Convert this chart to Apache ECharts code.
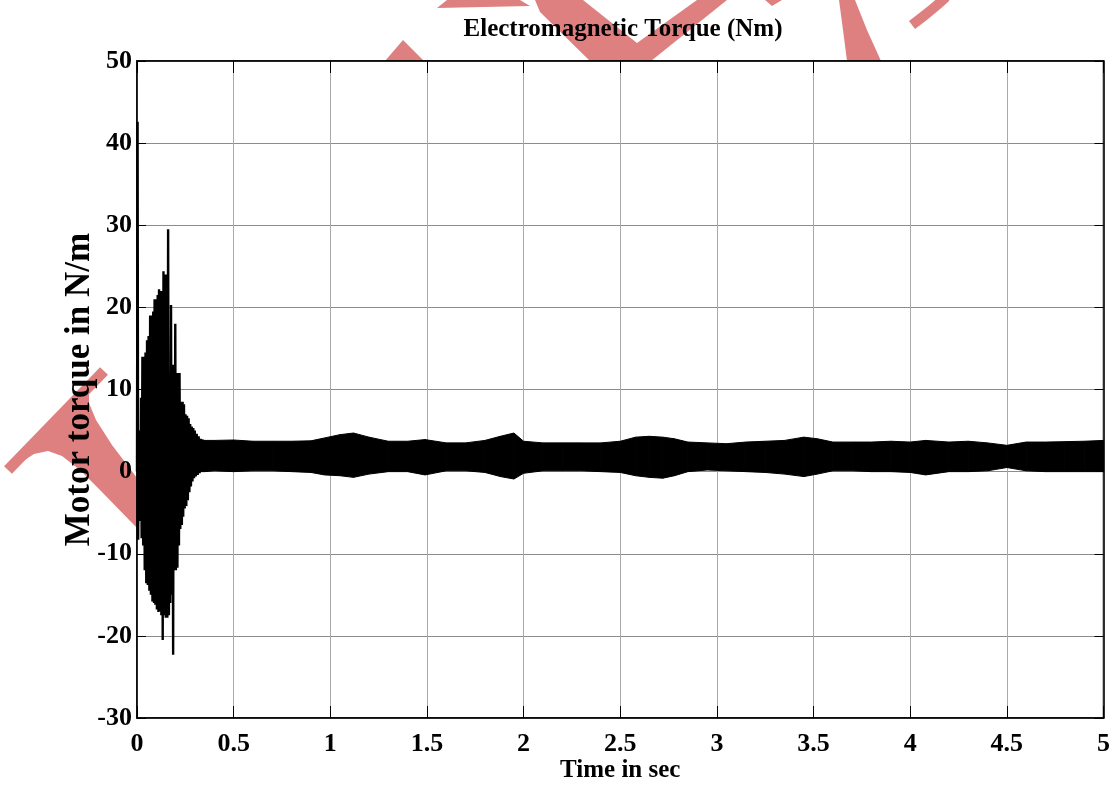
<!DOCTYPE html>
<html>
<head>
<meta charset="utf-8">
<script src="https://cdn.jsdelivr.net/npm/echarts@6/dist/echarts.min.js"></script>
<style>html,body{margin:0;padding:0;background:#fff;}#c{width:1113px;height:796px;}</style>
</head>
<body>
<div id="c"></div>
<script>
// ---- data ----
var xTicks = [0, 0.5, 1, 1.5, 2, 2.5, 3, 3.5, 4, 4.5, 5];
var yTicks = [-30, -20, -10, 0, 10, 20, 30, 40, 50];

// start-up transient: individual oscillation extremes (time s, torque)
var transientTime = [0.000,0.003,0.006,0.009,0.012,0.015,0.018,0.021,0.024,0.028,0.032,0.036,0.040,0.044,0.048,0.052,0.056,0.060,0.064,0.068,0.072,0.076,0.080,0.084,0.088,0.091,0.095,0.099,0.103,0.107,0.111,0.114,0.118,0.122,0.126,0.130,0.133,0.137,0.141,0.145,0.149,0.153,0.157,0.161,0.165,0.169,0.172,0.176,0.180,0.183,0.187,0.190,0.194,0.198,0.201,0.205,0.209,0.213,0.217,0.220,0.224,0.228,0.232,0.236,0.239,0.243,0.247,0.251,0.255,0.259,0.263,0.267,0.271,0.275,0.279,0.283,0.287,0.291,0.295,0.299,0.304,0.309,0.314,0.319,0.324,0.329,0.334,0.340];
var transientTorque = [0,42.6,-8.3,4,-5,5,-6,9,-8.1,14,-9,14,-12,14.5,-13.6,16,-13.8,16.5,-14.5,19,-15,19,-15.8,19.5,-16,21,-16.2,21,-16.8,21.5,-17.1,22.2,-17,22,-17.5,22,-20.5,24.4,-17.5,24,-17.8,24,-17.8,29.5,-17.5,12,-16,20.3,-15,13,-22.3,13,-12,18,-12,12,-11.7,12,-9,12,-7,8.5,-6.5,8.5,-5.5,8.2,-4.5,7,-4.2,6.8,-3.5,6.5,-2.5,5.8,-1.8,5.5,-1.2,5.3,-0.8,5,-0.6,4.6,-0.4,4.3,-0.2,4,0,3.9,0.1];

// steady state: ripple band envelope (time s, upper / lower torque)
var bandTime  = [0.33,0.35,0.40,0.50,0.60,0.70,0.80,0.90,0.97,1.05,1.12,1.20,1.30,1.40,1.49,1.60,1.70,1.80,1.88,1.95,2.00,2.10,2.20,2.30,2.40,2.50,2.58,2.65,2.72,2.78,2.85,2.95,3.05,3.15,3.25,3.35,3.45,3.52,3.60,3.70,3.80,3.90,4.00,4.08,4.20,4.30,4.40,4.50,4.60,4.70,4.80,4.90,5.00];
var bandUpper = [3.9,3.8,3.8,3.85,3.7,3.7,3.7,3.75,4.1,4.5,4.7,4.2,3.7,3.7,3.9,3.5,3.5,3.8,4.3,4.7,3.7,3.5,3.5,3.5,3.5,3.7,4.2,4.3,4.2,4.0,3.6,3.5,3.4,3.6,3.7,3.8,4.2,4.0,3.6,3.6,3.6,3.7,3.6,3.8,3.6,3.7,3.5,3.2,3.6,3.6,3.65,3.7,3.8];
var bandLower = [0.0,0.0,0.1,0.0,0.1,0.1,0.0,-0.1,-0.4,-0.5,-0.7,-0.3,0.0,0.0,-0.4,0.1,0.1,-0.1,-0.6,-0.9,-0.2,0.1,0.1,0.1,0.0,-0.1,-0.5,-0.7,-0.8,-0.5,0.0,0.2,0.1,0.0,-0.1,-0.3,-0.6,-0.3,0.1,0.1,0.0,0.0,-0.1,-0.4,0.0,0.0,0.1,0.5,0.1,0.0,0.0,0.0,0.0];

// ---- build series data ----
var transientData = transientTime.map(function (t, i) { return [t, transientTorque[i]]; });
var bandData = bandTime.map(function (t, i) { return [t, bandLower[i], bandUpper[i]]; });

var FONT = 'Liberation Serif, Times New Roman, serif';
var WM = '#de8080';

function renderBand(params, api) {
  var i = params.dataIndexInside;
  if (i >= params.dataInsideLength - 1) return null;
  var p0u = api.coord([api.value(0, i), api.value(2, i)]);
  var p1u = api.coord([api.value(0, i + 1), api.value(2, i + 1)]);
  var p1l = api.coord([api.value(0, i + 1), api.value(1, i + 1)]);
  var p0l = api.coord([api.value(0, i), api.value(1, i)]);
  return {
    type: 'polygon',
    shape: {points: [p0u, p1u, p1l, p0l]},
    style: {fill: '#000', stroke: '#000', lineWidth: 1}
  };
}

var chart = echarts.init(document.getElementById('c'), null, {renderer: 'canvas'});
var axisCommon = {
  type: 'value',
  axisLine: {show: true, onZero: false, lineStyle: {color: '#000', width: 1.5}},
  minorTick: {show: false}
};
chart.setOption({
  animation: false,
  backgroundColor: '#fff',
  title: {
    text: 'Electromagnetic Torque (Nm)',
    left: 618, top: 12, textAlign: 'center',
    textStyle: {fontFamily: FONT, fontWeight: 'bold', fontSize: 25, color: '#000'}
  },
  graphic: {
    elements: [
      {type: 'polyline', z: -10, shape: {points: [[8, 470], [104, 371]]}, style: {stroke: WM, lineWidth: 11, fill: null}},
      {type: 'polygon', z: -10, shape: {points: [[20, 463], [34, 454], [48, 451], [62, 456], [80, 470], [100, 490], [137, 528], [137, 478], [112, 445], [96, 420], [89, 403], [89, 392], [94, 387]]}, style: {fill: WM}},
      {type: 'polygon', z: -10, shape: {points: [[385, 61], [403, 40], [424, 61]]}, style: {fill: WM}},
      {type: 'polygon', z: -10, shape: {points: [[437, 8], [447, 0], [520, 0], [530, 6]]}, style: {fill: WM}},
      {type: 'polygon', z: -10, shape: {points: [[535, 0], [583, 0], [637, 43], [697, 0], [727, 0], [651, 61], [590, 61], [540, 12]]}, style: {fill: WM}},
      {type: 'polygon', z: -10, shape: {points: [[765, 0], [782, 0], [772, 6]]}, style: {fill: WM}},
      {type: 'polygon', z: -10, shape: {points: [[839, 0], [855, 0], [867, 30], [881, 61], [847, 61], [843, 30]]}, style: {fill: WM}},
      {type: 'polyline', z: -10, shape: {points: [[912, 25], [925, 15], [936, 6], [946, -3]], smooth: 0.4}, style: {stroke: WM, lineWidth: 10, fill: null}}
    ]
  },
  grid: {
    left: 137, right: 9, top: 61, bottom: 78,
    show: true, backgroundColor: '#fff', borderColor: '#000', borderWidth: 1.5
  },
  xAxis: [
    Object.assign({}, axisCommon, {
      position: 'bottom', min: xTicks[0], max: xTicks[xTicks.length - 1], interval: 0.5,
      axisTick: {show: true, inside: true, length: 12, lineStyle: {color: '#000', width: 1}},
      axisLabel: {show: true, margin: 13, fontFamily: FONT, fontWeight: 'bold', fontSize: 26, color: '#000',
        formatter: function (v) { return String(v); }},
      splitLine: {show: true, lineStyle: {color: '#aaaaaa', width: 1}},
      name: 'Time in sec', nameLocation: 'middle', nameGap: 40, nameMoveOverlap: false,
      nameTextStyle: {fontFamily: FONT, fontWeight: 'bold', fontSize: 25, color: '#000'}
    }),
    Object.assign({}, axisCommon, {
      position: 'top', min: xTicks[0], max: xTicks[xTicks.length - 1], interval: 0.5,
      axisTick: {show: true, inside: true, length: 12, lineStyle: {color: '#000', width: 1}},
      axisLabel: {show: false}, splitLine: {show: false}
    })
  ],
  yAxis: [
    Object.assign({}, axisCommon, {
      position: 'left', min: yTicks[0], max: yTicks[yTicks.length - 1], interval: 10,
      axisTick: {show: true, inside: true, length: 9, lineStyle: {color: '#000', width: 1}},
      axisLabel: {show: true, margin: 5, fontFamily: FONT, fontWeight: 'bold', fontSize: 26, color: '#000'},
      splitLine: {show: true, lineStyle: {color: '#8c8c8c', width: 1}},
      name: 'Motor torque in N/m', nameLocation: 'middle', nameGap: 40, nameRotate: 90, nameMoveOverlap: false,
      nameTextStyle: {fontFamily: FONT, fontWeight: 'bold', fontSize: 35, color: '#000'}
    }),
    Object.assign({}, axisCommon, {
      position: 'right', min: yTicks[0], max: yTicks[yTicks.length - 1], interval: 10,
      axisTick: {show: true, inside: true, length: 9, lineStyle: {color: '#000', width: 1}},
      axisLabel: {show: false}, splitLine: {show: false}
    })
  ],
  series: [
    {
      name: 'ripple band', type: 'custom', xAxisIndex: 0, yAxisIndex: 0,
      dimensions: ['t', 'lower', 'upper'],
      encode: {x: 0, y: [1, 2]},
      data: bandData, renderItem: renderBand, silent: true, clip: true, z: 3
    },
    {
      name: 'transient', type: 'line', xAxisIndex: 0, yAxisIndex: 0,
      data: transientData, symbol: 'none', silent: true, z: 4,
      lineStyle: {color: '#000', width: 2.4, join: 'miter'}
    }
  ]
});
</script>
</body>
</html>
